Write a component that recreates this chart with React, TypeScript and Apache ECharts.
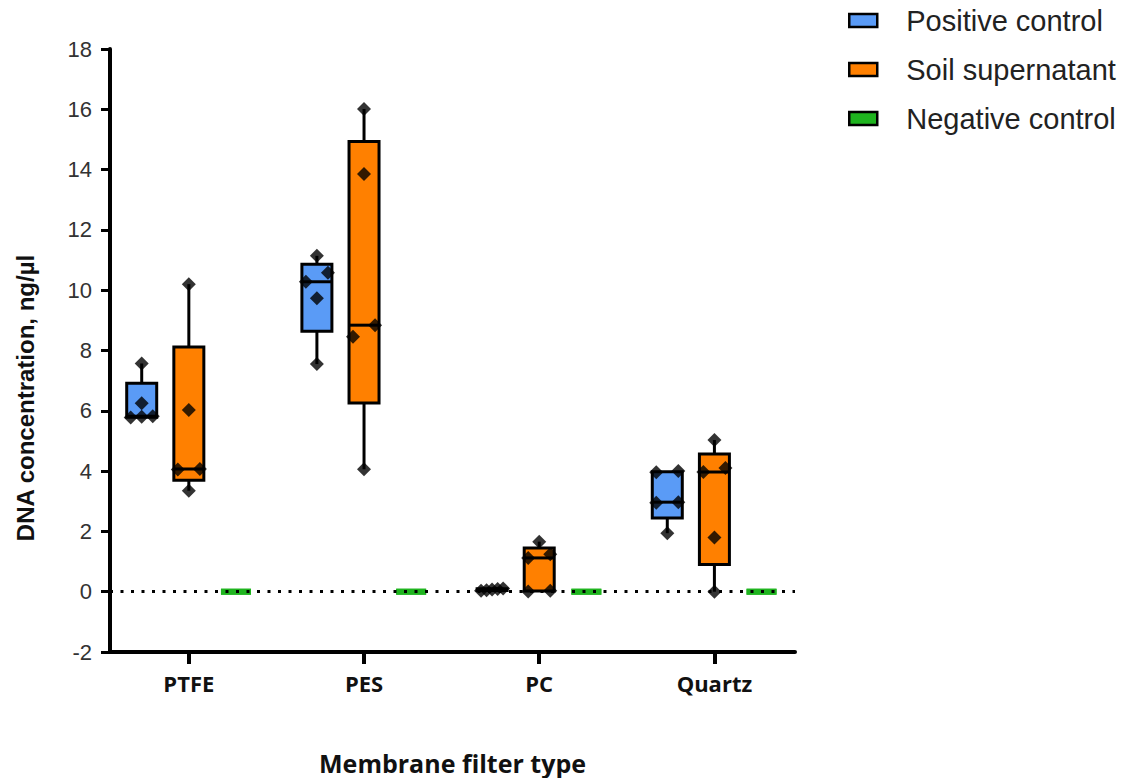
import React, { useEffect, useRef } from "react";
import * as echarts from "echarts";

const categories = ["PTFE", "PES", "PC", "Quartz"];
const seriesNames = ["Positive control", "Soil supernatant", "Negative control"];

// raw replicate values per filter type
const positiveControl = [
  [5.78, 5.8, 5.82, 6.25, 7.57],
  [7.55, 9.73, 10.28, 10.58, 11.14],
  [0.03, 0.05, 0.07, 0.09, 0.11],
  [1.94, 2.95, 2.97, 3.96, 4.0],
];
const soilSupernatant = [
  [3.35, 4.05, 4.07, 6.03, 10.2],
  [4.06, 8.46, 8.84, 13.85, 16.01],
  [0.01, 0.03, 1.12, 1.24, 1.66],
  [0.0, 1.8, 3.97, 4.1, 5.03],
];
const negativeControl = [
  [0, 0, 0, 0, 0],
  [0, 0, 0, 0, 0],
  [0, 0, 0, 0, 0],
  [0, 0, 0, 0, 0],
];

const yTicksMin = -2;
const yTicksMax = 18;
const yInterval = 2;

const fills = ["#5A9BF6", "#FF8000", "#1FB41F"];
const strokes = ["#000000", "#000000", "#1FB41F"];

const GROUP_OFFSET = 0.269; // axis units between boxes of a group
const JITTER = 0.063; // axis units
const CLUSTER_Y = 0.4; // value units

function quantile(sorted: number[], p: number) {
  const n = sorted.length;
  const pos = p * (n + 1);
  if (pos <= 1) return sorted[0];
  if (pos >= n) return sorted[n - 1];
  const lo = Math.floor(pos);
  const f = pos - lo;
  return sorted[lo - 1] + f * (sorted[lo] - sorted[lo - 1]);
}

function boxStats(vals: number[]) {
  const s = [...vals].sort((a, b) => a - b);
  return [s[0], quantile(s, 0.25), quantile(s, 0.5), quantile(s, 0.75), s[s.length - 1]];
}

function jitterPoints(vals: number[], cx: number) {
  const s = [...vals].sort((a, b) => a - b);
  const clusters: number[][] = [];
  s.forEach((v) => {
    const last = clusters[clusters.length - 1];
    if (last && v - last[last.length - 1] < CLUSTER_Y) last.push(v);
    else clusters.push([v]);
  });
  const pts: number[][] = [];
  clusters.forEach((c) => {
    const k = c.length;
    c.forEach((v, i) => {
      const off = k === 1 ? 0 : -JITTER + (i * 2 * JITTER) / (k - 1);
      pts.push([cx + off, v]);
    });
  });
  return pts;
}

const allData = [positiveControl, soilSupernatant, negativeControl];

export default function App() {
  const ref = useRef<HTMLDivElement>(null);
  useEffect(() => {
    if (!ref.current) return;
    const chart = echarts.init(ref.current, undefined, { renderer: "svg" });

    const boxSeries: any[] = allData.map((groups, si) => {
      const data = groups.map((vals, gi) => {
        const x = gi + 1 + (si - 1) * GROUP_OFFSET;
        return [x, ...boxStats(vals)];
      });
      return {
        type: "custom",
        name: seriesNames[si],
        z: 2,
        itemStyle: { color: fills[si], borderColor: "#000", borderWidth: 2.5 },
        encode: { x: 0, y: [1, 2, 3, 4, 5] },
        data,
        renderItem: (params: any, api: any) => {
          const x = api.value(0);
          const pMin = api.coord([x, api.value(1)]);
          const pQ1 = api.coord([x, api.value(2)]);
          const pMed = api.coord([x, api.value(3)]);
          const pQ3 = api.coord([x, api.value(4)]);
          const pMax = api.coord([x, api.value(5)]);
          const cx = pMin[0];
          const hw = 15;
          const lw = si === 2 ? 6 : 3;
          return {
            type: "group",
            children: [
              { type: "line", shape: { x1: cx, y1: pQ1[1], x2: cx, y2: pMin[1] }, style: { stroke: strokes[si], lineWidth: 3 } },
              { type: "line", shape: { x1: cx, y1: pQ3[1], x2: cx, y2: pMax[1] }, style: { stroke: strokes[si], lineWidth: 3 } },
              {
                type: "rect",
                shape: { x: cx - hw, y: pQ3[1], width: 2 * hw, height: pQ1[1] - pQ3[1] },
                style: { fill: fills[si], stroke: strokes[si], lineWidth: lw },
              },
              { type: "line", shape: { x1: cx - hw, y1: pMed[1], x2: cx + hw, y2: pMed[1] }, style: { stroke: strokes[si], lineWidth: lw } },
            ],
          };
        },
      };
    });

    const pointSeries: any[] = allData.slice(0, 2).map((groups, si) => {
      const data: number[][] = [];
      groups.forEach((vals, gi) => {
        const cx = gi + 1 + (si - 1) * GROUP_OFFSET;
        jitterPoints(vals, cx).forEach((p) => data.push(p));
      });
      return {
        type: "scatter",
        name: seriesNames[si] + " points",
        z: 3,
        symbol: "diamond",
        symbolSize: 14,
        itemStyle: { color: "#000" },
        data,
      };
    });

    const zeroLine = {
      type: "scatter",
      name: "zero",
      z: 1,
      data: [],
      markLine: {
        silent: true,
        symbol: "none",
        label: { show: false },
        lineStyle: { color: "#000", width: 3, type: [3, 7.5] },
        data: [{ yAxis: 0 }],
      },
    };

    chart.setOption({
      animation: false,
      backgroundColor: "#fff",
      grid: { left: 110, top: 49, width: 685, height: 603, outerBoundsMode: "none", containLabel: false },
      legend: {
        data: seriesNames,
        orient: "vertical",
        left: 848,
        top: 6,
        itemWidth: 28,
        itemHeight: 13,
        itemGap: 20,
        padding: 0,
        icon: "rect",
        itemStyle: { borderColor: "#000", borderWidth: 2.5 },
        textStyle: { fontSize: 29, color: "#222", fontFamily: "Arial", padding: [0, 0, 0, 24] },
      },
      xAxis: {
        type: "value",
        min: 0.55,
        max: 4.46,
        name: "Membrane filter type",
        nameLocation: "middle",
        nameGap: 98,
        nameTextStyle: { fontSize: 25, fontWeight: "bold", fontFamily: "Open Sans", color: "#111" },
        splitLine: { show: false },
        axisLine: { onZero: false, lineStyle: { color: "#000", width: 4 } },
        axisTick: { show: true, length: 12, customValues: [1, 2, 3, 4], lineStyle: { color: "#000", width: 4 } },
        axisLabel: {
          customValues: [1, 2, 3, 4],
          formatter: (v: number) => categories[Math.round(v) - 1] ?? "",
          fontSize: 22,
          fontWeight: "bold",
          fontFamily: "Open Sans",
          color: "#111",
          margin: 20,
        },
      },
      yAxis: {
        type: "value",
        min: yTicksMin,
        max: yTicksMax,
        interval: yInterval,
        splitLine: { show: false },
        axisLine: { show: true, onZero: false, lineStyle: { color: "#000", width: 4 } },
        axisTick: { show: true, length: 9, lineStyle: { color: "#000", width: 3 } },
        axisLabel: { fontSize: 22, color: "#333", fontFamily: "Arial", margin: 18 },
      },
      graphic: [
        {
          type: "text",
          x: 25,
          y: 398,
          rotation: Math.PI / 2,
          style: {
            text: "DNA concentration, ng/µl",
            fontSize: 24,
            fontWeight: "bold",
            fontFamily: "Arial",
            fill: "#111",
            align: "center",
            verticalAlign: "middle",
          },
        },
      ],
      series: [zeroLine, ...boxSeries, ...pointSeries],
    });
    return () => chart.dispose();
  }, []);
  return <div ref={ref} style={{ position: "fixed", left: 0, top: 0, width: 1121, height: 778, background: "#fff" }} />;
}
